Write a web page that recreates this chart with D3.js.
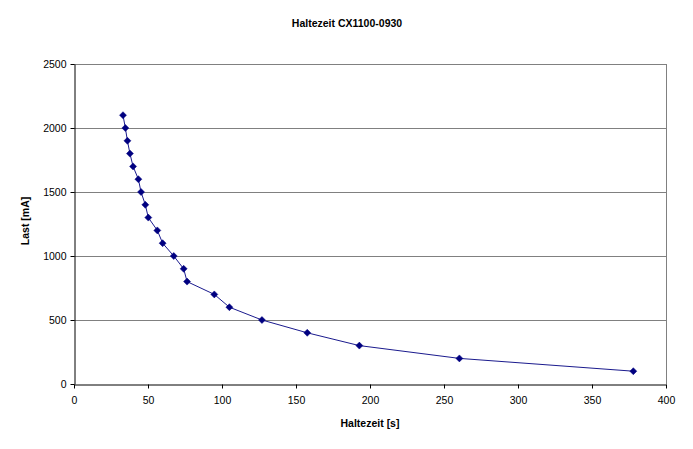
<!DOCTYPE html>
<html>
<head>
<meta charset="utf-8">
<script src="https://cdn.jsdelivr.net/npm/d3@7"></script>
<style>
html,body{margin:0;padding:0;background:#fff;}
svg{display:block;font-family:"Liberation Sans",Arial,sans-serif;}
</style>
</head>
<body>
<svg id="chart" width="693" height="449"></svg>
<script>
const title = "Haltezeit CX1100-0930";
const xTitle = "Haltezeit [s]";
const yTitle = "Last [mA]";
const haltezeit = [33.1, 34.7, 36.1, 37.8, 39.9, 43.5, 45.3, 48.2, 50.2, 56.3, 59.9, 67.4, 74.1, 76.4, 94.8, 105, 127, 157.6, 192.8, 260.4, 377.9];
const last = [2100, 2000, 1900, 1800, 1700, 1600, 1500, 1400, 1300, 1200, 1100, 1000, 900, 800, 700, 600, 500, 400, 300, 200, 100];
const xTicks = [0, 50, 100, 150, 200, 250, 300, 350, 400];
const yTicks = [0, 500, 1000, 1500, 2000, 2500];

const svg = d3.select("#chart");
const L = 74, R = 666, T = 64, B = 384;
const x = d3.scaleLinear().domain([0, 400]).range([L, R]);
const y = d3.scaleLinear().domain([0, 2500]).range([B, T]);

// gridlines
svg.append("g").selectAll("line").data(yTicks.filter(d => d > 0)).join("line")
  .attr("x1", L).attr("x2", R)
  .attr("y1", d => Math.round(y(d)) + 0.5).attr("y2", d => Math.round(y(d)) + 0.5)
  .attr("stroke", "#808080").attr("stroke-width", 1);
// right border
svg.append("line").attr("x1", R + 0.5).attr("x2", R + 0.5).attr("y1", T).attr("y2", B)
  .attr("stroke", "#808080");

// axes
const xAxis = svg.append("g").attr("transform", `translate(0,${B + 0.5})`)
  .call(d3.axisBottom(x).tickValues(xTicks).tickFormat(d3.format("d")).tickSize(4).tickPadding(8).tickSizeOuter(0));
const yAxis = svg.append("g").attr("transform", `translate(${L + 0.5},0)`)
  .call(d3.axisLeft(y).tickValues(yTicks).tickFormat(d3.format("d")).tickSize(4).tickPadding(4).tickSizeOuter(0));
[xAxis, yAxis].forEach(a => {
  a.select(".domain").attr("stroke", "#000");
  a.selectAll(".tick line").attr("stroke", "#000");
  a.selectAll("text").attr("font-size", "10.5px").attr("fill", "#000")
    .attr("font-family", "'Liberation Sans', Arial, sans-serif");
});

const pts = haltezeit.map((h, i) => [h, last[i]]);
// line
svg.append("path").datum(pts)
  .attr("fill", "none").attr("stroke", "#000080").attr("stroke-width", 0.9)
  .attr("d", d3.line().x(d => x(d[0])).y(d => y(d[1])));
// markers
svg.append("g").selectAll("path").data(pts).join("path")
  .attr("transform", d => `translate(${x(d[0])},${y(d[1])})`)
  .attr("d", "M0,-3.5L3.5,0L0,3.5L-3.5,0Z")
  .attr("fill", "#000080").attr("stroke", "#000080").attr("stroke-width", 0.5);

// titles
svg.append("text").attr("x", 347).attr("y", 27).attr("text-anchor", "middle")
  .attr("font-size", "10.5px").attr("font-weight", "bold").text(title);
svg.append("text").attr("x", 370).attr("y", 427).attr("text-anchor", "middle")
  .attr("font-size", "10.5px").attr("font-weight", "bold").text(xTitle);
svg.append("text").attr("transform", "translate(29,221) rotate(-90)").attr("text-anchor", "middle")
  .attr("font-size", "10.5px").attr("font-weight", "bold").text(yTitle);
</script>
</body>
</html>
